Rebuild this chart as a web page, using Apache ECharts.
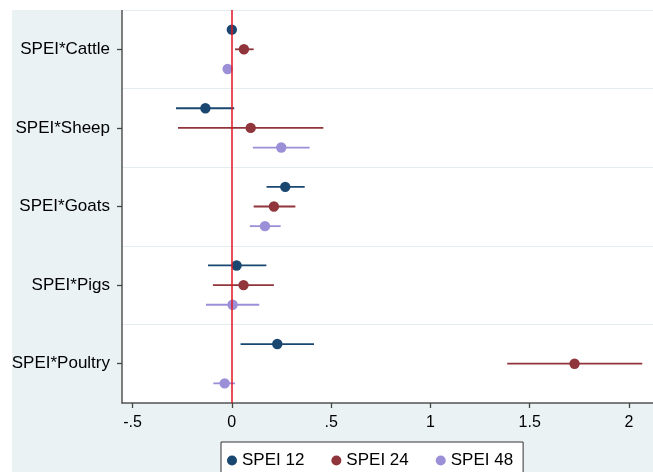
<!DOCTYPE html>
<html>
<head>
<meta charset="utf-8">
<script src="https://cdn.jsdelivr.net/npm/echarts@6/dist/echarts.min.js"></script>
<style>
html,body{margin:0;padding:0;background:#fff;width:653px;height:472px;overflow:hidden;}
#chart{position:absolute;left:12px;top:10px;width:641px;height:462px;}
</style>
</head>
<body>
<div id="chart"></div>
<script>
// ---- data ----
const categories = ['SPEI*Cattle', 'SPEI*Sheep', 'SPEI*Goats', 'SPEI*Pigs', 'SPEI*Poultry'];
const seriesNames = ['SPEI 12', 'SPEI 24', 'SPEI 48'];
// [estimate, lower CI, upper CI] per category
const spei12 = [[0.000, -0.004, 0.004], [-0.133, -0.281, 0.012], [0.269, 0.175, 0.367], [0.024, -0.120, 0.174], [0.229, 0.044, 0.414]];
const spei24 = [[0.061, 0.016, 0.110], [0.095, -0.271, 0.461], [0.212, 0.110, 0.320], [0.059, -0.095, 0.212], [1.726, 1.387, 2.067]];
const spei48 = [[-0.021, -0.025, -0.017], [0.249, 0.106, 0.392], [0.167, 0.091, 0.246], [0.004, -0.130, 0.138], [-0.036, -0.093, 0.016]];
const xTicks = [-0.5, 0, 0.5, 1, 1.5, 2];
const zeroLine = 0;

const colors = ['#1a476f', '#90353b', '#9b8fd8'];
const offsets = [-0.25, 0, 0.25];
const allData = [spei12, spei24, spei48];

function makeSeries(idx) {
  return {
    name: seriesNames[idx],
    type: 'custom',
    coordinateSystem: 'cartesian2d',
    z: 3,
    itemStyle: {color: colors[idx]},
    encode: {x: [0, 1, 2], y: 3},
    data: allData[idx].map((d, i) => [d[0], d[1], d[2], categories[i]]),
    renderItem: function (params, api) {
      const cat = api.value(3);
      const p = api.coord([api.value(0), cat]);
      const lo = api.coord([api.value(1), cat]);
      const hi = api.coord([api.value(2), cat]);
      const band = api.size([0, 1])[1];
      const dy = offsets[idx] * band;
      return {
        type: 'group',
        children: [
          {type: 'line', shape: {x1: lo[0], y1: lo[1] + dy, x2: hi[0], y2: hi[1] + dy},
           style: {stroke: colors[idx], lineWidth: 1.8}},
          {type: 'circle', shape: {cx: p[0], cy: p[1] + dy, r: 5.2},
           style: {fill: colors[idx]}}
        ]
      };
    }
  };
}

const font = "'Liberation Sans', Arial, Helvetica, sans-serif";
const chart = echarts.init(document.getElementById('chart'), null, {renderer: 'canvas'});
chart.setOption({
  backgroundColor: '#eaf2f3',
  animation: false,
  textStyle: {fontFamily: font},
  grid: {left: 110, top: 0, right: 0, bottom: 69, show: true, backgroundColor: '#ffffff', borderWidth: 0,
         containLabel: false, outerBoundsMode: 'none'},
  xAxis: {
    type: 'value',
    min: -0.553,
    max: 2.121,
    axisLine: {show: true, onZero: false, lineStyle: {color: '#555', width: 1.5}},
    axisTick: {show: true, length: 5, lineStyle: {color: '#444', width: 1.3}, customValues: xTicks},
    axisLabel: {
      customValues: xTicks,
      color: '#000', fontSize: 16, margin: 12, fontFamily: font,
      formatter: function (v) { return String(v).replace(/^(-?)0\./, '$1.'); }
    },
    splitLine: {show: false}
  },
  yAxis: {
    type: 'category',
    inverse: true,
    data: categories,
    boundaryGap: true,
    axisLine: {show: true, onZero: false, lineStyle: {color: '#555', width: 1.5}},
    axisTick: {show: true, alignWithLabel: true, length: 5, lineStyle: {color: '#444', width: 1.3}},
    axisLabel: {color: '#000', fontSize: 17, margin: 12, fontFamily: font},
    splitLine: {show: true, lineStyle: {color: '#e3edf0', width: 1.2}}
  },
  legend: {
    data: seriesNames.map(n => ({name: n, icon: 'circle'})),
    left: 209, top: 432,
    padding: [10, 10, 20, 6],
    itemWidth: 10, itemHeight: 10, itemGap: 27,
    backgroundColor: '#fff', borderColor: '#333', borderWidth: 1, borderRadius: 0,
    textStyle: {fontSize: 17, color: '#000', fontFamily: font}
  },
  series: [
    {
      name: 'zero', type: 'line', data: [], z: 1, silent: true,
      markLine: {
        silent: true, symbol: 'none', label: {show: false},
        lineStyle: {color: '#e0141e', width: 1.5, type: 'solid'},
        data: [{xAxis: zeroLine}]
      }
    },
    makeSeries(0), makeSeries(1), makeSeries(2)
  ]
});
</script>
</body>
</html>
